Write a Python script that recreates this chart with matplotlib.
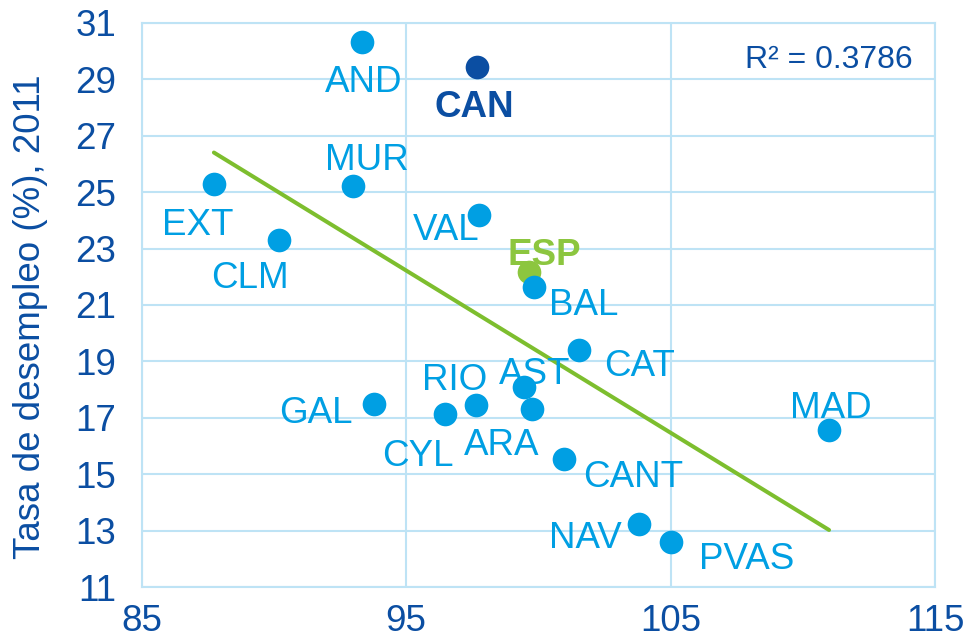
import matplotlib
matplotlib.use("Agg")
import matplotlib.pyplot as plt

plt.rcParams['font.family'] = ['Liberation Sans', 'DejaVu Sans']

# ---- data ----
regions = ["AND", "CAN", "MUR", "EXT", "VAL", "CLM", "ESP", "BAL", "CAT", "AST",
           "RIO", "GAL", "CYL", "ARA", "MAD", "CANT", "NAV", "PVAS"]
x_vals = [93.32, 97.69, 93.00, 87.73, 97.76, 90.20, 99.66, 99.85, 101.54, 99.45,
          97.63, 93.80, 96.47, 99.76, 110.99, 100.95, 103.81, 105.01]
y_vals = [30.31, 29.44, 25.22, 25.30, 24.19, 23.30, 22.18, 21.63, 19.41, 18.08,
          17.46, 17.49, 17.13, 17.30, 16.57, 15.54, 13.24, 12.62]
trend_x = [87.73, 110.99]
trend_y = [26.40, 13.03]
r2_text = "R² = 0.3786"
x_ticks = [85, 95, 105, 115]
y_ticks = [11, 13, 15, 17, 19, 21, 23, 25, 27, 29, 31]
y_label = "Tasa de desempleo (%), 2011"

# ---- styles / label offsets (pixels: right, down of label centre) ----
label_off = {
    "AND": (1.6, 36.5), "CAN": (-3, 37), "MUR": (14, -29), "EXT": (-16.3, 38.3),
    "VAL": (-33, 12), "CLM": (-29, 34.5), "ESP": (14.5, -20), "BAL": (49.5, 14.7),
    "CAT": (60, 13), "AST": (10.5, -16.7), "RIO": (-21, -27.7), "GAL": (-59, 6),
    "CYL": (-26.7, 39), "ARA": (-30, 32.7), "MAD": (1.7, -25), "CANT": (69.7, 14.3),
    "NAV": (-54, 11), "PVAS": (76, 14.6),
}
C_PT = '#009FE3'
C_DARK = '#0B4EA2'
C_GREEN = '#8CC63F'
C_TREND = '#7DBE2E'
C_GRID = '#BEE3F5'
FS = 26.5
special = {"CAN": (C_DARK, 'bold'), "ESP": (C_GREEN, 'bold')}

fig = plt.figure(figsize=(9.68, 6.41), dpi=100)
ax = fig.add_axes([0.1464, 0.0838, 0.966 - 0.1464, 0.9646 - 0.0838])
ax.set_xlim(85, 115)
ax.set_ylim(11, 31)
ax.set_xticks(x_ticks)
ax.set_yticks(y_ticks)
ax.grid(True, color=C_GRID, linewidth=1.5)
ax.set_axisbelow(True)
for s in ax.spines.values():
    s.set_color(C_GRID)
    s.set_linewidth(1.5)
ax.tick_params(length=0, labelsize=FS, labelcolor=C_DARK)
ax.tick_params(axis='y', pad=18.5)
ax.tick_params(axis='x', pad=12)

fig.text(31 / 968, 1 - 317 / 641, y_label, rotation=90, ha='center', va='center',
         fontsize=FS, color=C_DARK)

ax.plot(trend_x, trend_y, color=C_TREND, linewidth=2.9, solid_capstyle='round', zorder=2)

cap_half = FS * 100 / 72 * 0.716 / 2
for name, x, y in zip(regions, x_vals, y_vals):
    col, weight = special.get(name, (C_PT, 'normal'))
    ax.scatter([x], [y], s=290, color=col, linewidths=0, zorder=3)
    dx, dy = label_off[name]
    ax.annotate(name, (x, y), xytext=(dx * 0.72, -(dy + cap_half) * 0.72),
                textcoords='offset points', ha='center', va='baseline',
                fontsize=FS, color=col, fontweight=weight, zorder=4)

ax.text(913 / 968, 1 - 67.7 / 641, r2_text, transform=fig.transFigure,
        ha='right', va='baseline', fontsize=23, color=C_DARK)

fig.savefig("out.png", dpi=100)
